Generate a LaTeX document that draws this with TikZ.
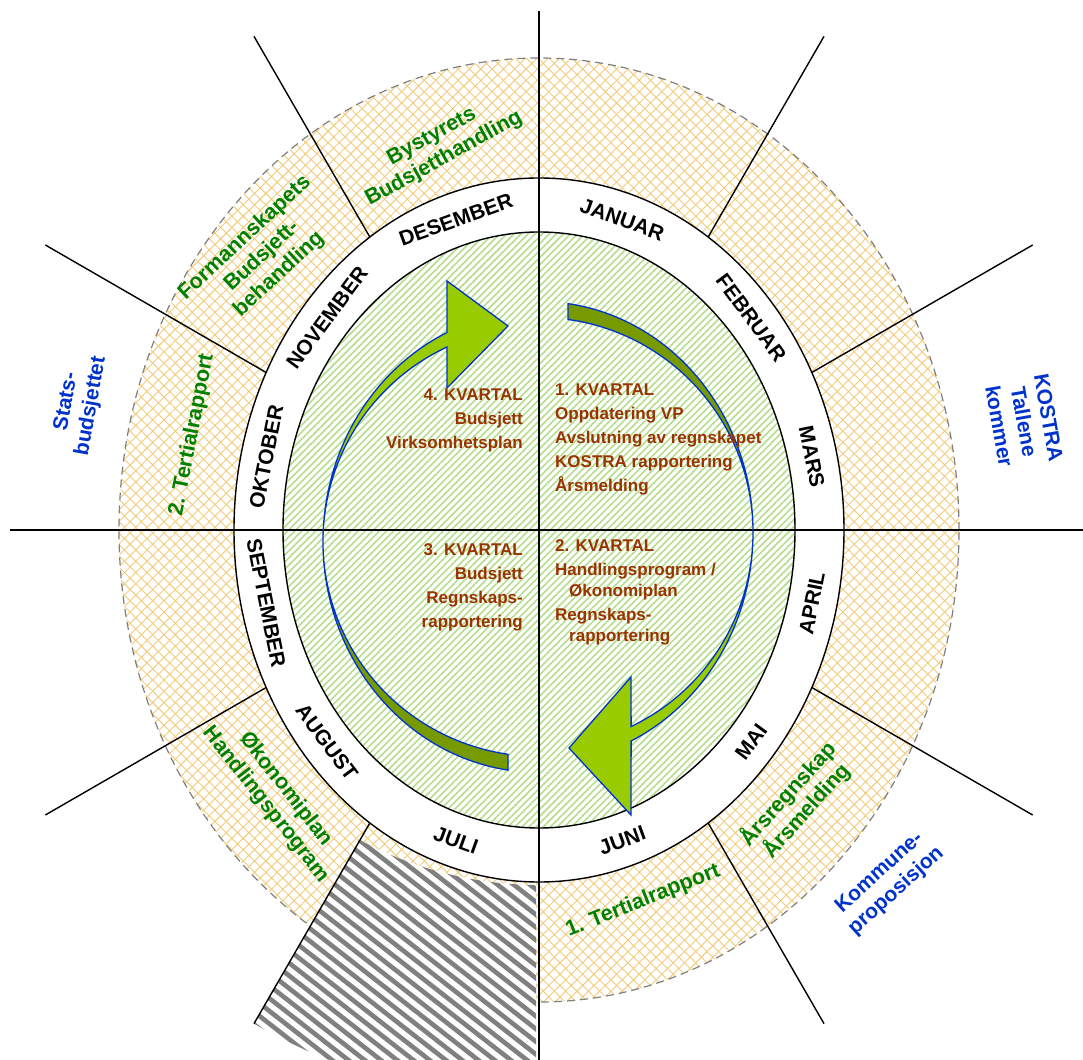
\documentclass[tikz,border=0pt]{standalone}
\usepackage{fontspec}
\setmainfont{Liberation Sans}
\usetikzlibrary{patterns.meta}
\definecolor{hatchor}{RGB}{242,204,122}
\definecolor{stripegr}{RGB}{180,222,140}
\definecolor{txtgreen}{RGB}{0,128,0}
\definecolor{txtblue}{RGB}{0,51,204}
\definecolor{txtbrown}{RGB}{153,51,0}
\definecolor{arrlime}{RGB}{153,204,0}
\definecolor{arrolive}{RGB}{118,154,0}
\definecolor{arredge}{RGB}{0,51,204}
\definecolor{dashgray}{RGB}{128,128,128}
\definecolor{stripegray}{RGB}{128,128,128}
\begin{document}
\begin{tikzpicture}[x=1pt,y=1pt,
  month/.style={font=\fontsize{21}{25}\selectfont\bfseries, inner sep=0pt},
  greentxt/.style={font=\fontsize{21.5}{25}\selectfont\bfseries, text=txtgreen, align=center, inner sep=0pt},
  bluetxt/.style={font=\fontsize{21}{25}\selectfont\bfseries, text=txtblue, align=center, inner sep=0pt},
  qtxt/.style={font=\fontsize{17}{24}\selectfont\bfseries, text=txtbrown, inner sep=0pt},
  spoke/.style={line width=1.4pt},
  ringline/.style={line width=1.4pt},
  graystripe/.style={stripegray, line width=4.6pt},
  arrowedge/.style={draw=arredge, line width=1.3pt, line join=miter}
]
\useasboundingbox (-539,-529) rectangle (544,530);
\clip (-539,-529) rectangle (544,530);
\fill[white] (-539,-529) rectangle (544,530);

% outer hatched ring
\fill[pattern={Hatch[angle=45,distance=8pt,line width=0.9pt]}, pattern color=hatchor]
  (0,0) ellipse [x radius=420, y radius=472];
\draw[dashgray, line width=1.2pt, dash pattern=on 8pt off 5pt]
  (0,0) ellipse [x radius=420, y radius=472];

% grey striped sector
\begin{scope}
  \clip (240:358) -- (240:570) arc[start angle=240, end angle=270, radius=570]
    -- (-3,-570) -- (-3,-355)
    arc[start angle=269.5, end angle=240.8, x radius=368, y radius=355] -- cycle;
  \fill[white] (-300,-600) rectangle (10,-250);
  \foreach \i in {-40,...,40}{
    \pgfmathsetmacro\cx{-140+\i*10*0.616}
    \pgfmathsetmacro\cy{-430+\i*10*0.788}
    \draw[graystripe] ({\cx-0.788*420},{\cy+0.616*420}) -- ({\cx+0.788*420},{\cy-0.616*420});
  }
\end{scope}

% white month ring
\fill[white] (0,0) ellipse [x radius=305, y radius=352];
\draw[ringline] (0,0) ellipse [x radius=305, y radius=352];

% green centre
\fill[pattern={Lines[angle=45,distance=5pt,line width=1.6pt]}, pattern color=stripegr]
  (0,0) ellipse [x radius=256, y radius=298];
\draw[ringline] (0,0) ellipse [x radius=256, y radius=298];

% spokes
\coordinate (vt) at (0,519);
\coordinate (vb) at (0,-560);
\coordinate (hl) at (-529,0);
\coordinate (hr) at (545,0);
\draw[spoke] (vt) -- (vb);
\draw[spoke] (hl) -- (hr);
\foreach \a/\r in {30/315.0,150/315.0,210/315.0,330/315.0,60/338.2,120/338.2,240/338.2,300/338.2}{
  \coordinate (s\a a) at (\a:\r);
  \coordinate (s\a b) at (\a:570);
  \draw[spoke] (s\a a) -- (s\a b);
}

% right arrow (1.-2. kvartal)
\fill[arrolive] ([shift={(0,-2.5)}]82.2:214 and 231)
  arc[start angle=82.2, end angle=0, x radius=214, y radius=231]
  arc[start angle=0, end angle=82.2, x radius=214, y radius=215] -- cycle;
\fill[arrlime] ([shift={(0,-2.5)}]0:214 and 231)
  arc[start angle=0, end angle=-64.5, x radius=214, y radius=231]
  -- (92,-285) -- (30,-218) -- (92,-147) -- ([shift={(0,-2.5)}]-64.5:214 and 215)
  arc[start angle=-64.5, end angle=0, x radius=214, y radius=215] -- cycle;
\draw[arrowedge] ([shift={(0,-2.5)}]82.2:214 and 231)
  arc[start angle=82.2, end angle=-64.5, x radius=214, y radius=231]
  -- (92,-285) -- (30,-218) -- (92,-147) -- ([shift={(0,-2.5)}]-64.5:214 and 215)
  arc[start angle=-64.5, end angle=82.2, x radius=214, y radius=215] -- cycle;

% left arrow (3.-4. kvartal)
\fill[arrolive] ([shift={(0,-11.5)}]261.75:216 and 231)
  arc[start angle=261.75, end angle=180, x radius=216, y radius=231]
  arc[start angle=180, end angle=261.75, x radius=216, y radius=215] -- cycle;
\fill[arrlime] ([shift={(0,-11.5)}]180:216 and 231)
  arc[start angle=180, end angle=115.2, x radius=216, y radius=231]
  -- (-92,249) -- (-31,204) -- (-92,142) -- ([shift={(0,-11.5)}]115.2:216 and 215)
  arc[start angle=115.2, end angle=180, x radius=216, y radius=215] -- cycle;
\draw[arrowedge] ([shift={(0,-11.5)}]261.75:216 and 231)
  arc[start angle=261.75, end angle=115.2, x radius=216, y radius=231]
  -- (-92,249) -- (-31,204) -- (-92,142) -- ([shift={(0,-11.5)}]115.2:216 and 215)
  arc[start angle=115.2, end angle=261.75, x radius=216, y radius=215] -- cycle;

% month labels
\foreach \m/\t in {JANUAR/75, FEBRUAR/45, MARS/15, APRIL/-15, MAI/-45, JUNI/-75, JULI/-105, AUGUST/-135, SEPTEMBER/-165, OKTOBER/165, NOVEMBER/135, DESEMBER/105}{
  \pgfmathsetmacro\rr{280/sqrt(cos(\t)^2+0.7423*sin(\t)^2)}
  \pgfmathsetmacro\xx{\rr*cos(\t)}
  \pgfmathsetmacro\yy{\rr*sin(\t)}
  \pgfmathsetmacro\rot{atan2(-\xx,0.7423*\yy)+(\yy<0)*180}
  \node[month, rotate=\rot] (m-\m) at (\xx,\yy) {\m};
}

% green labels
\node[greentxt, rotate=29] (bystyret) at (-101,382) {Bystyrets\\Budsjetthandling};
\node[greentxt, rotate=43] (formann) at (-277,274) {Formannskapets\\Budsjett-\\behandling};
\node[greentxt, rotate=79] (tert2) at (-347,95) {2. Tertialrapport};
\node[greentxt, rotate=-52] (okplan) at (-263,-267) {Økonomiplan\\Handlingsprogram};
\node[greentxt, rotate=22] (tert1) at (104,-371) {1. Tertialrapport};
\node[greentxt, rotate=48] (arsregn) at (258,-272) {Årsregnskap\\Årsmelding};

% blue labels
\node[bluetxt, rotate=80] (stats) at (-460,126) {Stats-\\budsjettet};
\node[bluetxt, rotate=-80] (kostra) at (485,108) {KOSTRA\\Tallene\\kommer};
\node[bluetxt, rotate=42] (kommune) at (349,-352) {Kommune-\\proposisjon};

% quarter texts
\node[qtxt, align=right, anchor=north east] (q4) at (-16,141) {4. KVARTAL\\Budsjett\\Virksomhetsplan};
\node[qtxt, align=left, anchor=north west] (q1) at (16,146) {1. KVARTAL\\Oppdatering VP\\Avslutning av regnskapet\\KOSTRA rapportering\\Årsmelding};
\node[qtxt, align=right, anchor=north east] (q3) at (-16,-13) {3. KVARTAL\\Budsjett\\Regnskaps-\\rapportering};
\node[qtxt, align=left, anchor=north west] (q2) at (16,-9) {2. KVARTAL\\Handlingsprogram /\\[-3pt]\hspace*{14pt}Økonomiplan\\Regnskaps-\\[-3pt]\hspace*{14pt}rapportering};
\end{tikzpicture}
\end{document}
